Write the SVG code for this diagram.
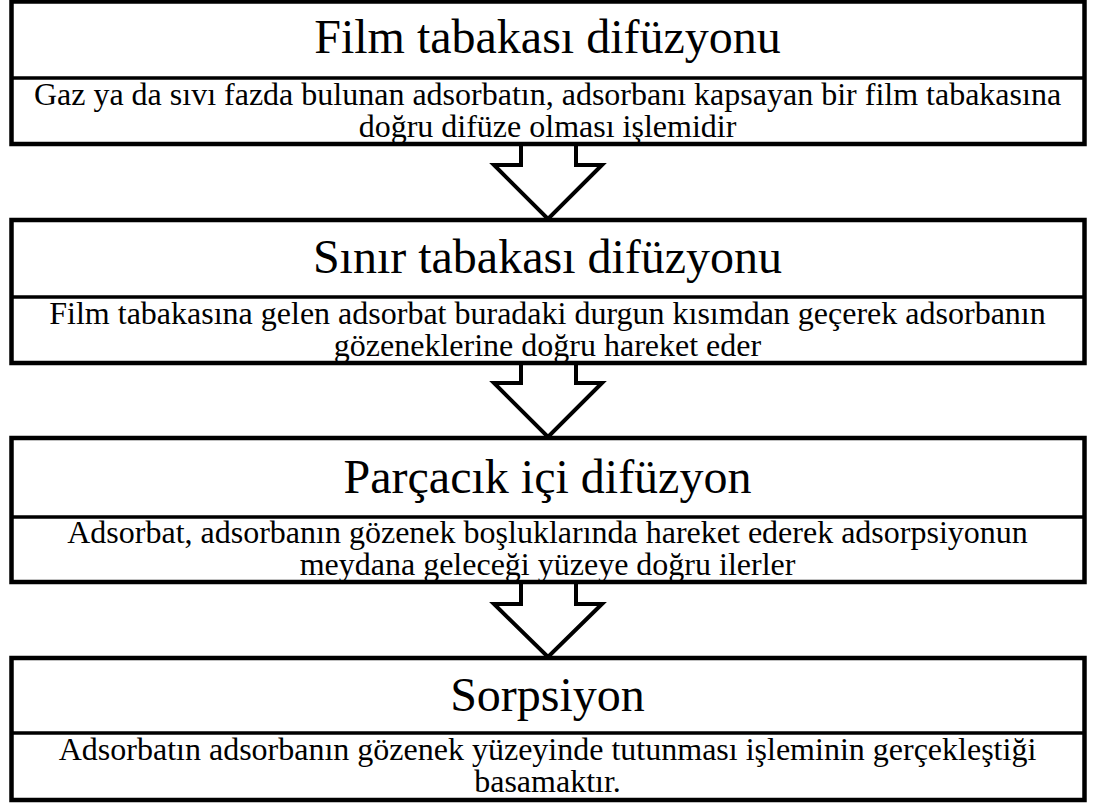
<svg xmlns="http://www.w3.org/2000/svg" width="1095" height="806" viewBox="0 0 1095 806">
<style>
.box{fill:#fff;stroke:#000;stroke-width:4.5}
.div{stroke:#000;stroke-width:3.5}
.arr{fill:#fff;stroke:#000;stroke-width:4;stroke-linejoin:miter}
.ttl{font-family:"Liberation Serif","Times New Roman",serif;font-size:48px;text-anchor:middle;fill:#000}
.desc{font-family:"Liberation Serif","Times New Roman",serif;font-size:32px;text-anchor:middle;fill:#000}
</style>
<rect width="1095" height="806" fill="#fff"/>
<g id="connectors">
<path class="arr" d="M521,144 V165 H494 L548,219 L602,165 H576 V144"/>
<path class="arr" d="M521,363 V383 H494 L548,437 L602,383 H576 V363"/>
<path class="arr" d="M521,582 V604 H494 L548,657 L602,604 H576 V582"/>
</g>
<g id="node1">
<rect class="box" x="11.5" y="1.5" width="1073" height="142.5"/>
<line class="div" x1="11.5" y1="78" x2="1084.5" y2="78"/>
<text class="ttl" x="547.5" y="53">Film tabakası difüzyonu</text>
<text class="desc"><tspan x="547.5" y="105">Gaz ya da sıvı fazda bulunan adsorbatın, adsorbanı kapsayan bir film tabakasına</tspan><tspan x="547.5" y="137">doğru difüze olması işlemidir</tspan></text>
</g>
<g id="node2">
<rect class="box" x="11.5" y="220" width="1073" height="143"/>
<line class="div" x1="11.5" y1="297" x2="1084.5" y2="297"/>
<text class="ttl" x="547.5" y="273">Sınır tabakası difüzyonu</text>
<text class="desc"><tspan x="547.5" y="324">Film tabakasına gelen adsorbat buradaki durgun kısımdan geçerek adsorbanın</tspan><tspan x="547.5" y="356">gözeneklerine doğru hareket eder</tspan></text>
</g>
<g id="node3">
<rect class="box" x="11.5" y="438" width="1073" height="144"/>
<line class="div" x1="11.5" y1="517" x2="1084.5" y2="517"/>
<text class="ttl" x="547.5" y="493">Parçacık içi difüzyon</text>
<text class="desc"><tspan x="547.5" y="543">Adsorbat, adsorbanın gözenek boşluklarında hareket ederek adsorpsiyonun</tspan><tspan x="547.5" y="575">meydana geleceği yüzeye doğru ilerler</tspan></text>
</g>
<g id="node4">
<rect class="box" x="11.5" y="658" width="1073" height="142"/>
<line class="div" x1="11.5" y1="733" x2="1084.5" y2="733"/>
<text class="ttl" x="547.5" y="711">Sorpsiyon</text>
<text class="desc"><tspan x="547.5" y="760">Adsorbatın adsorbanın gözenek yüzeyinde tutunması işleminin gerçekleştiği</tspan><tspan x="547.5" y="792">basamaktır.</tspan></text>
</g>
</svg>
